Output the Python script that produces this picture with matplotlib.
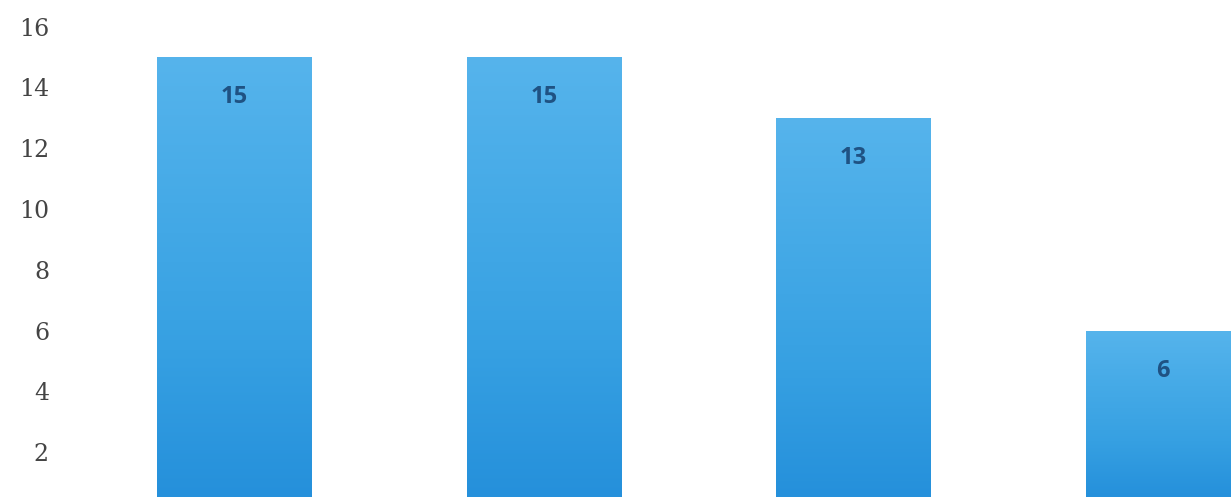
import numpy as np
import matplotlib
matplotlib.use("Agg")
import matplotlib.pyplot as plt
from matplotlib.colors import LinearSegmentedColormap

categories = ["A", "B", "C", "D"]
values = [15, 15, 13, 6]
yticks = [2, 4, 6, 8, 10, 12, 14, 16]

fig = plt.figure(figsize=(12.31, 4.97), dpi=100)
ax = fig.add_axes([0.05, 0.0, 0.95, 1.0])

x = np.arange(len(categories))
bars = ax.bar(x, values, width=0.5, color="#3aa2e3", zorder=2)

ax.set_xlim(-0.559, 3.220)
ax.set_ylim(0.526, 16.875)

# vertical gradient inside each bar
cmap = LinearSegmentedColormap.from_list("g", ["#2590db", "#36a0e2", "#45aae7", "#56b4ec"])
grad = np.linspace(0, 1, 256).reshape(-1, 1)
for b in bars:
    x0, y0 = b.get_x(), b.get_y()
    w, h = b.get_width(), b.get_height()
    im = ax.imshow(grad, cmap=cmap, origin="lower", aspect="auto",
                   extent=[x0, x0 + w, max(y0, 0.526), y0 + h], zorder=2.5)
    im.set_clip_path(b)

for xi, v in zip(x, values):
    ax.annotate(str(v), (xi, v), xytext=(0, -29), textcoords="offset points",
                ha="center", va="center", fontsize=17, fontweight="bold",
                color="#1f5283", family="Open Sans", zorder=3)

ax.set_yticks(yticks)
ax.set_yticklabels([str(t) for t in yticks], family="DejaVu Serif",
                   fontsize=17, color="#444444")
ax.tick_params(axis="y", length=0, pad=9)
ax.set_xticks([])
for s in ax.spines.values():
    s.set_visible(False)

fig.savefig("out.png", dpi=100)
